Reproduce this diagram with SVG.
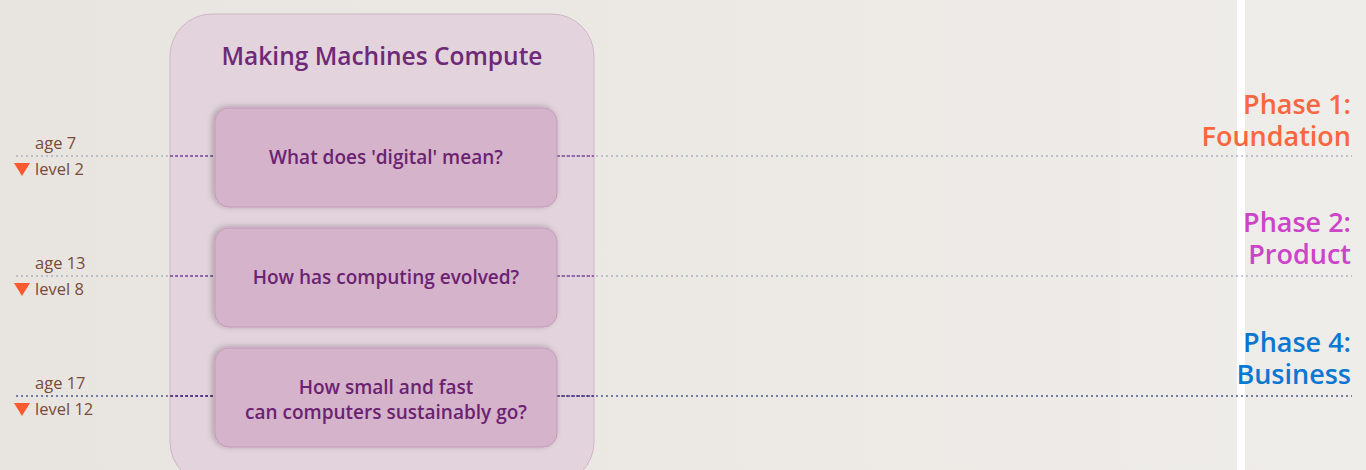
<svg xmlns="http://www.w3.org/2000/svg" width="1366" height="470" viewBox="0 0 1366 470">
  <defs>
    <linearGradient id="bg" x1="0" y1="0" x2="1" y2="0">
      <stop offset="0" stop-color="#e8e5e0"/>
      <stop offset="1" stop-color="#efede9"/>
    </linearGradient>
    <filter id="sh" x="-10%" y="-20%" width="120%" height="140%">
      <feGaussianBlur in="SourceAlpha" stdDeviation="3"/>
      <feOffset dx="-2" dy="-1"/>
      <feComponentTransfer><feFuncA type="linear" slope="0.25"/></feComponentTransfer>
      <feMerge><feMergeNode/><feMergeNode in="SourceGraphic"/></feMerge>
    </filter>
    <style>
      .box { fill: #d5b3ca; stroke: #c49ab8; stroke-width: 1; }
      .btxt { font-family: "Open Sans", "Noto Sans", sans-serif; font-weight: 600; font-size: 19px; fill: #6b2272; text-anchor: middle; }
      .age { font-family: "Open Sans", "Noto Sans", sans-serif; font-size: 16.5px; fill: #7a4a3a; }
      .phase { font-family: "Open Sans", "Noto Sans", sans-serif; font-weight: 600; font-size: 27px; text-anchor: end; }
      .lnL { stroke: #8f9ab4; stroke-width: 1.2; stroke-dasharray: 2 3; fill: none; }
      .lnP { stroke: #7a4a9e; stroke-width: 1.5; stroke-dasharray: 3 2; fill: none; }
      .tri { fill: #fa5a32; }
    </style>
  </defs>
  <rect x="0" y="0" width="1366" height="470" fill="url(#bg)"/>
  <rect x="1237" y="0" width="8" height="470" fill="#ffffff"/>

  <g id="container">
    <rect x="170" y="14" width="424" height="470" rx="42" fill="#e3d3dc" stroke="#cfb5c8" stroke-width="1"/>
    <text x="382" y="65" text-anchor="middle" font-family="'Open Sans', 'Noto Sans', sans-serif" font-weight="600" font-size="24.5" fill="#6e2a78">Making Machines Compute</text>
  </g>

  <g id="connectors">
    <line class="lnL" x1="16" y1="156" x2="1352" y2="156"/>
    <line class="lnP" x1="170" y1="156" x2="215" y2="156"/>
    <line class="lnP" x1="557" y1="156" x2="594" y2="156"/>
    <line class="lnL" x1="16" y1="276" x2="1352" y2="276"/>
    <line class="lnP" x1="170" y1="276" x2="215" y2="276"/>
    <line class="lnP" x1="557" y1="276" x2="594" y2="276"/>
    <line class="lnL" x1="16" y1="396" x2="1352" y2="396" style="stroke:#4a5a8a;stroke-width:1.5"/>
    <line class="lnP" x1="170" y1="396" x2="215" y2="396" style="stroke:#4a2a80"/>
    <line class="lnP" x1="557" y1="396" x2="594" y2="396" style="stroke:#4a2a80"/>
  </g>

  <g id="node-digital">
    <rect class="box" x="215" y="108" width="342" height="99" rx="14" filter="url(#sh)"/>
    <text class="btxt" x="386" y="164">What does 'digital' mean?</text>
  </g>
  <g id="node-evolved">
    <rect class="box" x="215" y="228" width="342" height="99" rx="14" filter="url(#sh)"/>
    <text class="btxt" x="386" y="284">How has computing evolved?</text>
  </g>
  <g id="node-sustain">
    <rect class="box" x="215" y="348" width="342" height="99" rx="14" filter="url(#sh)"/>
    <text class="btxt" x="386" y="394">How small and fast</text>
    <text class="btxt" x="386" y="419">can computers sustainably go?</text>
  </g>

  <g id="level-1">
    <text class="age" x="35" y="149">age 7</text>
    <path class="tri" d="M14 163 L30 163 L22 176 Z"/>
    <text class="age" x="35" y="175">level 2</text>
  </g>
  <g id="level-2">
    <text class="age" x="35" y="269">age 13</text>
    <path class="tri" d="M14 283 L30 283 L22 296 Z"/>
    <text class="age" x="35" y="295">level 8</text>
  </g>
  <g id="level-3">
    <text class="age" x="35" y="389">age 17</text>
    <path class="tri" d="M14 403 L30 403 L22 416 Z"/>
    <text class="age" x="35" y="415">level 12</text>
  </g>

  <g id="phase-1">
    <text class="phase" x="1351" y="114" fill="#fa6640">Phase 1:</text>
    <text class="phase" x="1351" y="146" fill="#fa6640">Foundation</text>
  </g>
  <g id="phase-2">
    <text class="phase" x="1351" y="232" fill="#cc44c8">Phase 2:</text>
    <text class="phase" x="1351" y="264" fill="#cc44c8">Product</text>
  </g>
  <g id="phase-4">
    <text class="phase" x="1351" y="352" fill="#0a78d2">Phase 4:</text>
    <text class="phase" x="1351" y="384" fill="#0a78d2">Business</text>
  </g>
</svg>
